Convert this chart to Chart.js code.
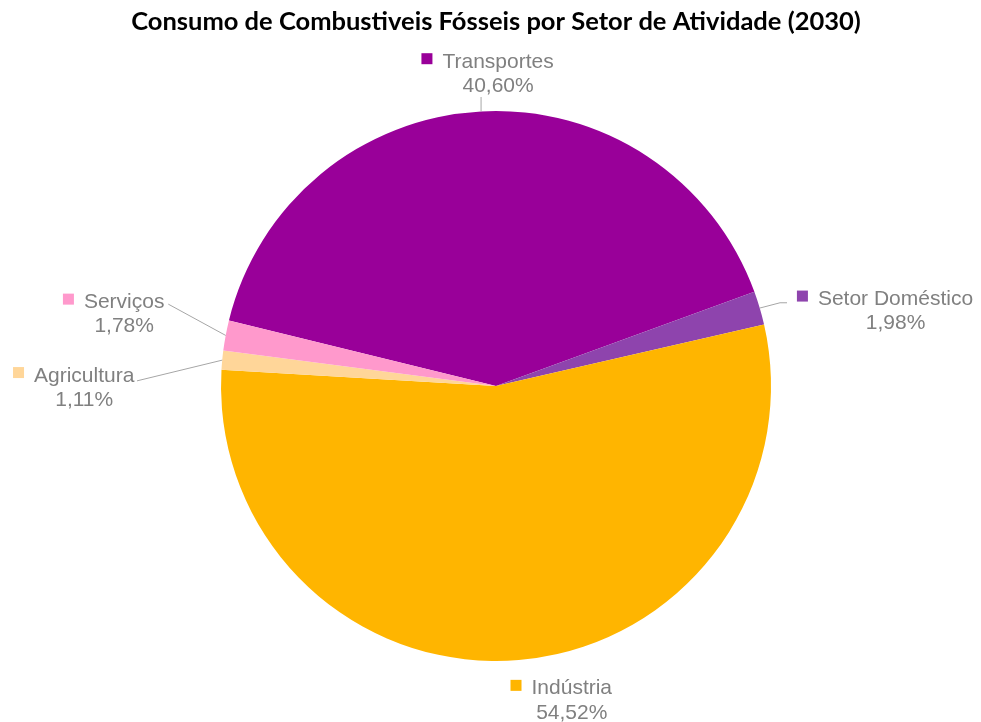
<!DOCTYPE html>
<html>
<head>
<meta charset="utf-8">
<script src="https://cdn.jsdelivr.net/npm/chart.js@4"></script>
<style>
  html, body { margin: 0; padding: 0; background: #ffffff; }
  #wrap { width: 981px; height: 722px; }
</style>
</head>
<body>
<div id="wrap"><canvas id="c" width="981" height="722"></canvas></div>
<script>
const categories = ['Transportes', 'Setor Doméstico', 'Indústria', 'Agricultura', 'Serviços'];
const shares = [40.60, 1.98, 54.52, 1.11, 1.78];
const sliceColors = ['#990099', '#8E44AD', '#FFB500', '#FFD699', '#FF99CC'];
const chartTitle = 'Consumo de Combustiveis Fósseis por Setor de Atividade (2030)';

// Where each data label sits, relative to the outer mid-point of its slice:
// text = [centre x, first-line baseline], leader = polyline points.
const labelLayout = [
  { text: [17, -43.7],    leader: [[0, -14.4]] },
  { text: [135.8, -3],    leader: [[20.3, -5.3], [27.3, -5.3]] },
  { text: [53, 34.3],     leader: [] },
  { text: [-138, 21.4],   leader: [[-85.2, 20.7]] },
  { text: [-101.5, -27.3], leader: [[-57.4, -31.3]] }
];

const fmtPct = v => v.toFixed(2).replace('.', ',') + '%';

const outsideLabels = {
  id: 'outsideLabels',
  afterDraw(chart) {
    const ctx = chart.ctx;
    const meta = chart.getDatasetMeta(0);
    meta.data.forEach((arc, i) => {
      const p = arc.getProps(['x', 'y', 'startAngle', 'endAngle', 'outerRadius'], true);
      const mid = (p.startAngle + p.endAngle) / 2;
      const ax = p.x + p.outerRadius * Math.cos(mid);
      const ay = p.y + p.outerRadius * Math.sin(mid);
      const lay = labelLayout[i];

      ctx.save();
      if (lay.leader.length) {
        ctx.strokeStyle = '#A6A6A6';
        ctx.lineWidth = 1;
        ctx.beginPath();
        ctx.moveTo(ax, ay);
        lay.leader.forEach(([dx, dy]) => ctx.lineTo(ax + dx, ay + dy));
        ctx.stroke();
      }
      const cx = ax + lay.text[0];
      const b1 = ay + lay.text[1];
      ctx.font = '21px "Liberation Sans", Arial, sans-serif';
      ctx.fillStyle = '#808080';
      ctx.textAlign = 'center';
      ctx.textBaseline = 'alphabetic';
      const name = categories[i];
      const w = ctx.measureText(name).width;
      ctx.fillText(name, cx, b1);
      ctx.fillText(fmtPct(shares[i]), cx, b1 + 24.3);
      ctx.fillStyle = sliceColors[i];
      ctx.fillRect(cx - w / 2 - 10 - 11, b1 - 14.5, 11, 11);
      ctx.restore();
    });
  }
};

new Chart(document.getElementById('c'), {
  type: 'pie',
  data: {
    labels: categories,
    datasets: [{
      data: shares,
      backgroundColor: sliceColors,
      borderWidth: 0
    }]
  },
  options: {
    responsive: false,
    animation: false,
    rotation: -76.2,
    layout: { padding: { left: 11, right: 0, top: 0, bottom: 61 } },
    plugins: {
      legend: { display: false },
      tooltip: { enabled: false },
      title: {
        display: true,
        text: chartTitle,
        color: '#000000',
        font: { family: 'Lato', weight: 'bold', size: 25.5 },
        padding: { top: 6.7, bottom: 73.7 }
      }
    }
  },
  plugins: [outsideLabels]
});
</script>
</body>
</html>
